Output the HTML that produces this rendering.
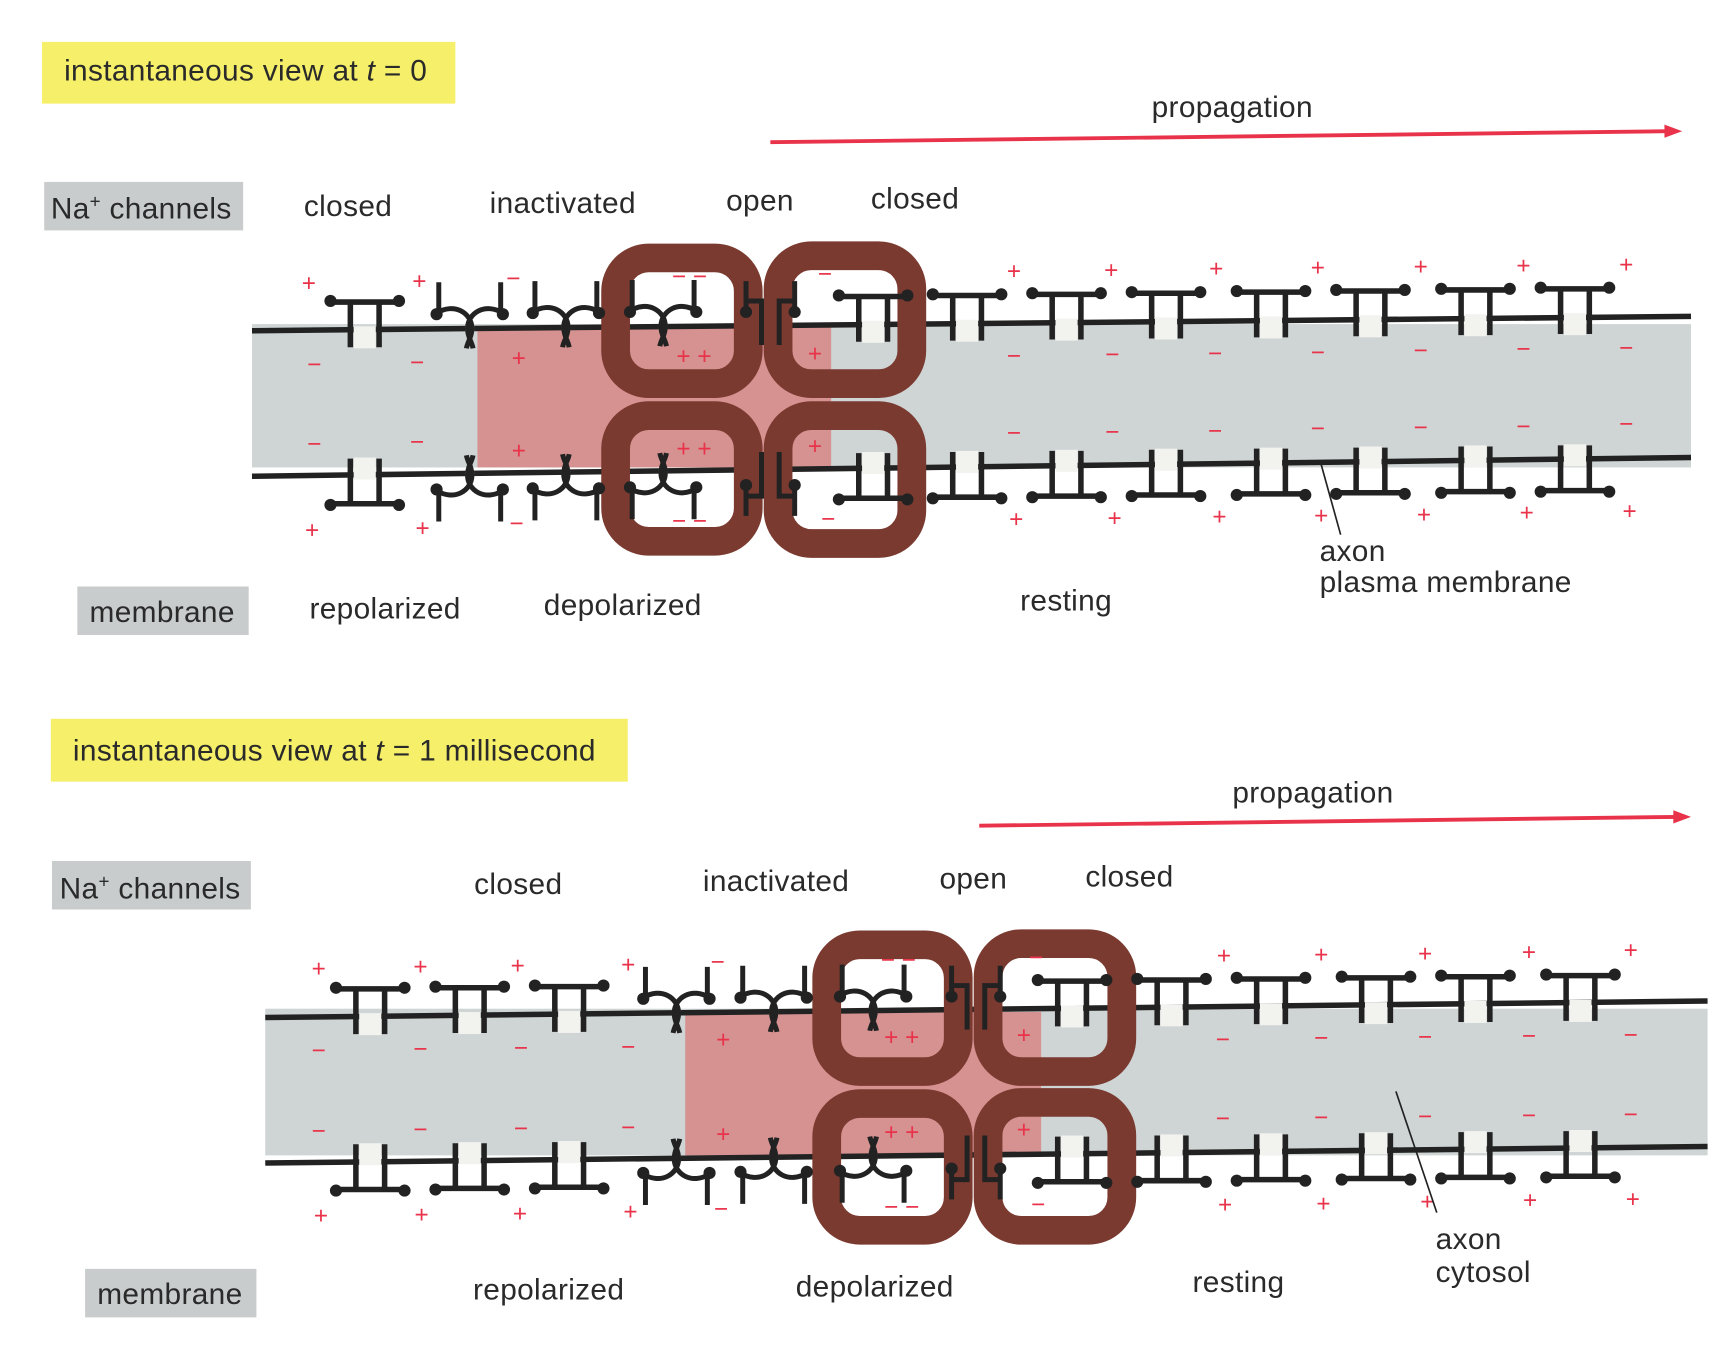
<!DOCTYPE html>
<html><head><meta charset="utf-8">
<style>
html,body{margin:0;padding:0;background:#fff;}
svg{display:block;}
text{font-family:"Liberation Sans",sans-serif;fill:#2a2a2a;}
.lbl{font-size:27px;letter-spacing:0.3px;}
.pm text{fill:#e8334a;font-size:22px;}
</style></head><body>
<svg width="1733" height="1367" viewBox="0 0 1568 1240" preserveAspectRatio="none" xmlns="http://www.w3.org/2000/svg">
<defs>
<g id="cT">
 <rect x="-10" y="-3" width="20" height="20" fill="#f2f2ef"/>
 <path d="M-13,-25V16 M13,-25V16 M-30,-25H30" stroke="#222" stroke-width="5" fill="none"/>
 <circle cx="-31" cy="-26" r="5.5" fill="#222"/><circle cx="31" cy="-26" r="5.5" fill="#222"/>
</g>
<g id="iT">
 <rect x="-4" y="-3" width="8" height="6" fill="#fff"/>
 <path d="M-28,-42V-14 M28,-42V-14 M-30,-14 C-14,-24 2,-14 2,0 C2,8 -2,12 -3,18 M30,-14 C14,-24 -2,-14 -2,0 C-2,8 2,12 3,18" stroke="#222" stroke-width="4.5" fill="none"/>
 <circle cx="-30" cy="-13" r="5.5" fill="#222"/><circle cx="30" cy="-13" r="5.5" fill="#222"/>
</g>
<g id="oT">
 <path d="M-22,-40V-12 M-22,-22H-8V18 M22,-40V-12 M22,-22H8V18" stroke="#222" stroke-width="4.5" fill="none"/>
 <circle cx="-22" cy="-12" r="5.5" fill="#222"/><circle cx="22" cy="-12" r="5.5" fill="#222"/>
</g>
</defs>

<!-- Panel 1 -->
<rect x="38" y="38" width="374" height="56" fill="#f5ef6a"/>
<text class="lbl" x="58" y="73">instantaneous view at <tspan font-style="italic">t</tspan> = 0</text>
<line x1="697" y1="129" x2="1510" y2="119" stroke="#e8334a" stroke-width="3.5"/>
<polygon points="1522,119 1506,113 1506,125" fill="#e8334a"/>
<text class="lbl" x="1042" y="106">propagation</text>
<rect x="40" y="165" width="180" height="44" fill="#c8cccc"/>
<text class="lbl" x="46" y="198">Na<tspan dy="-10" font-size="17">+</tspan><tspan dy="10"> channels</tspan></text>
<text class="lbl" x="275" y="196">closed</text>
<text class="lbl" x="443" y="193">inactivated</text>
<text class="lbl" x="657" y="191">open</text>
<text class="lbl" x="788" y="189">closed</text>

<rect x="228" y="294" width="1302" height="130" fill="#cfd4d4"/>
<rect x="432" y="296" width="320" height="128" fill="#d69191"/>
<line x1="228" y1="300" x2="1530" y2="287" stroke="#222" stroke-width="5"/>
<line x1="228" y1="432" x2="1530" y2="415" stroke="#222" stroke-width="5"/>
<g fill="none" stroke="#7a3a30" stroke-width="26">
<rect x="557" y="234" width="120" height="114" rx="30"/>
<rect x="704" y="232" width="121" height="116" rx="30"/>
<rect x="557" y="377" width="120" height="114" rx="30"/>
<rect x="704" y="377" width="121" height="116" rx="30"/>
</g>
<g>
<use href="#cT" x="330" y="299"/>
<use href="#iT" x="425" y="298"/><use href="#iT" x="512" y="297"/><use href="#iT" x="600" y="296"/>
<use href="#oT" x="697" y="295"/>
<use href="#cT" x="790" y="294"/><use href="#cT" x="875" y="293"/><use href="#cT" x="965" y="292"/>
<use href="#cT" x="1055" y="291"/><use href="#cT" x="1150" y="290"/><use href="#cT" x="1240" y="289"/>
<use href="#cT" x="1335" y="288"/><use href="#cT" x="1425" y="287"/>
<g transform="translate(0,726) scale(1,-1)">
<use href="#cT" x="330" y="294"/>
<use href="#iT" x="425" y="295"/><use href="#iT" x="512" y="296"/><use href="#iT" x="600" y="297"/>
<use href="#oT" x="697" y="298"/>
<use href="#cT" x="790" y="299"/><use href="#cT" x="875" y="300"/><use href="#cT" x="965" y="301"/>
<use href="#cT" x="1055" y="302"/><use href="#cT" x="1150" y="303"/><use href="#cT" x="1240" y="304"/>
<use href="#cT" x="1335" y="305"/><use href="#cT" x="1425" y="306"/>
</g>
</g>
<g class="pm">
<text x="273" y="264">+</text><text x="373" y="262">+</text><text x="458" y="260">−</text><text x="608" y="258">− −</text><text x="740" y="256">−</text>
<text x="911" y="253">+</text><text x="999" y="252">+</text><text x="1094" y="251">+</text><text x="1186" y="250">+</text><text x="1279" y="249">+</text><text x="1372" y="248">+</text><text x="1465" y="247">+</text>
<text x="278" y="338">−</text><text x="371" y="336">−</text><text x="463" y="332">+</text><text x="612" y="330">+ +</text><text x="731" y="328">+</text>
<text x="911" y="330">−</text><text x="1000" y="329">−</text><text x="1093" y="328">−</text><text x="1186" y="327">−</text><text x="1279" y="325">−</text><text x="1372" y="324">−</text><text x="1465" y="323">−</text>
<text x="278" y="410">−</text><text x="371" y="408">−</text><text x="463" y="416">+</text><text x="612" y="414">+ +</text><text x="731" y="412">+</text>
<text x="911" y="400">−</text><text x="1000" y="399">−</text><text x="1093" y="398">−</text><text x="1186" y="396">−</text><text x="1279" y="395">−</text><text x="1372" y="394">−</text><text x="1465" y="392">−</text>
<text x="276" y="488">+</text><text x="376" y="486">+</text><text x="461" y="482">−</text><text x="608" y="480">− −</text><text x="743" y="478">−</text>
<text x="913" y="478">+</text><text x="1002" y="477">+</text><text x="1097" y="476">+</text><text x="1189" y="475">+</text><text x="1282" y="474">+</text><text x="1375" y="472">+</text><text x="1468" y="471">+</text>
</g>
<line x1="1195" y1="420" x2="1213" y2="485" stroke="#222" stroke-width="1.5"/>
<text class="lbl" x="1194" y="509">axon</text>
<text class="lbl" x="1194" y="537">plasma membrane</text>
<rect x="70" y="532" width="155" height="44" fill="#c8cccc"/>
<text class="lbl" x="81" y="564">membrane</text>
<text class="lbl" x="280" y="561">repolarized</text>
<text class="lbl" x="492" y="558">depolarized</text>
<text class="lbl" x="923" y="554">resting</text>

<!-- Panel 2 -->
<rect x="46" y="652" width="522" height="57" fill="#f5ef6a"/>
<text class="lbl" x="66" y="690">instantaneous view at <tspan font-style="italic">t</tspan> = 1 millisecond</text>
<line x1="886" y1="749" x2="1518" y2="741" stroke="#e8334a" stroke-width="3.5"/>
<polygon points="1530,741 1514,735 1514,747" fill="#e8334a"/>
<text class="lbl" x="1115" y="728">propagation</text>
<rect x="47" y="781" width="180" height="44" fill="#c8cccc"/>
<text class="lbl" x="54" y="815">Na<tspan dy="-10" font-size="17">+</tspan><tspan dy="10"> channels</tspan></text>
<text class="lbl" x="429" y="811">closed</text>
<text class="lbl" x="636" y="808">inactivated</text>
<text class="lbl" x="850" y="806">open</text>
<text class="lbl" x="982" y="804">closed</text>

<rect x="240" y="915" width="1305" height="133" fill="#cfd4d4"/>
<rect x="620" y="918" width="322" height="130" fill="#d69191"/>
<line x1="240" y1="923" x2="1545" y2="908" stroke="#222" stroke-width="5"/>
<line x1="240" y1="1055" x2="1545" y2="1040" stroke="#222" stroke-width="5"/>
<g fill="none" stroke="#7a3a30" stroke-width="26">
<rect x="748" y="857" width="119" height="115" rx="30"/>
<rect x="894" y="856" width="121" height="116" rx="30"/>
<rect x="748" y="1001" width="119" height="115" rx="30"/>
<rect x="894" y="1000" width="121" height="116" rx="30"/>
</g>
<g>
<use href="#cT" x="335" y="922"/><use href="#cT" x="425" y="921"/><use href="#cT" x="515" y="920"/>
<use href="#iT" x="612" y="919"/><use href="#iT" x="700" y="918"/><use href="#iT" x="790" y="917"/>
<use href="#oT" x="883" y="916"/>
<use href="#cT" x="970" y="915"/><use href="#cT" x="1060" y="914"/><use href="#cT" x="1150" y="913"/>
<use href="#cT" x="1245" y="912"/><use href="#cT" x="1335" y="911"/><use href="#cT" x="1430" y="910"/>
<g transform="translate(0,1963) scale(1,-1)">
<use href="#cT" x="335" y="909"/><use href="#cT" x="425" y="910"/><use href="#cT" x="515" y="911"/>
<use href="#iT" x="612" y="912"/><use href="#iT" x="700" y="913"/><use href="#iT" x="790" y="914"/>
<use href="#oT" x="883" y="915"/>
<use href="#cT" x="970" y="916"/><use href="#cT" x="1060" y="917"/><use href="#cT" x="1150" y="918"/>
<use href="#cT" x="1245" y="919"/><use href="#cT" x="1335" y="920"/><use href="#cT" x="1430" y="921"/>
</g>
</g>
<g class="pm">
<text x="282" y="886">+</text><text x="374" y="884">+</text><text x="462" y="883">+</text><text x="562" y="882">+</text><text x="643" y="880">−</text><text x="797" y="878">− −</text><text x="931" y="876">−</text>
<text x="1101" y="874">+</text><text x="1189" y="873">+</text><text x="1283" y="872">+</text><text x="1377" y="871">+</text><text x="1469" y="869">+</text>
<text x="282" y="960">−</text><text x="374" y="959">−</text><text x="465" y="958">−</text><text x="562" y="957">−</text><text x="648" y="950">+</text><text x="800" y="948">+ +</text><text x="920" y="946">+</text>
<text x="1100" y="950">−</text><text x="1189" y="949">−</text><text x="1283" y="948">−</text><text x="1377" y="947">−</text><text x="1469" y="946">−</text>
<text x="282" y="1033">−</text><text x="374" y="1032">−</text><text x="465" y="1031">−</text><text x="562" y="1030">−</text><text x="648" y="1036">+</text><text x="800" y="1034">+ +</text><text x="920" y="1032">+</text>
<text x="1100" y="1022">−</text><text x="1189" y="1021">−</text><text x="1283" y="1020">−</text><text x="1377" y="1019">−</text><text x="1469" y="1018">−</text>
<text x="284" y="1110">+</text><text x="375" y="1109">+</text><text x="464" y="1108">+</text><text x="564" y="1106">+</text><text x="646" y="1104">−</text><text x="800" y="1102">− −</text><text x="933" y="1100">−</text>
<text x="1102" y="1100">+</text><text x="1191" y="1099">+</text><text x="1285" y="1097">+</text><text x="1378" y="1096">+</text><text x="1471" y="1095">+</text>
</g>
<line x1="1263" y1="990" x2="1300" y2="1100" stroke="#222" stroke-width="1.5"/>
<text class="lbl" x="1299" y="1133">axon</text>
<text class="lbl" x="1299" y="1163">cytosol</text>
<rect x="77" y="1151" width="155" height="44" fill="#c8cccc"/>
<text class="lbl" x="88" y="1183">membrane</text>
<text class="lbl" x="428" y="1179">repolarized</text>
<text class="lbl" x="720" y="1176">depolarized</text>
<text class="lbl" x="1079" y="1172">resting</text>
</svg>
</body></html>
